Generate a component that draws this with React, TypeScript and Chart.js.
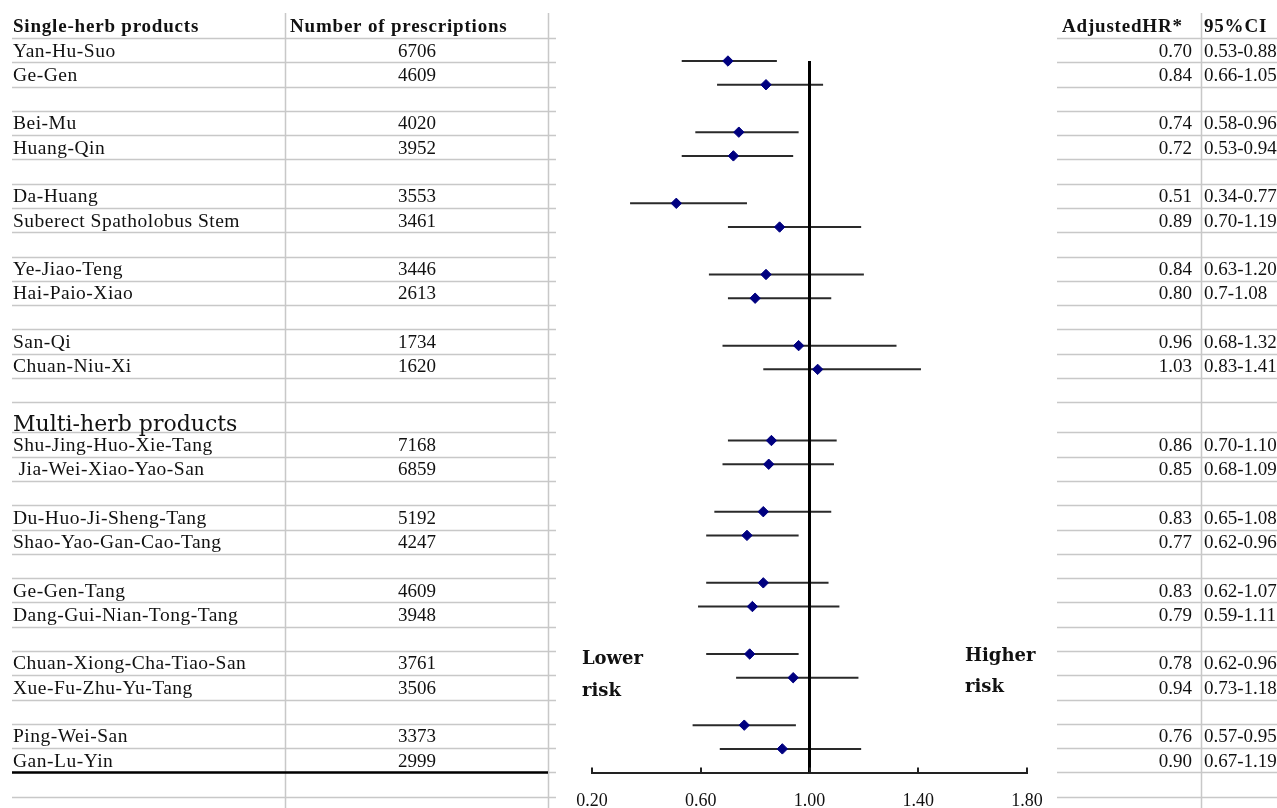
import { useEffect, useRef } from "react";
import { Chart, registerables } from "chart.js";

Chart.register(...registerables);

// ---------- data ----------
const singleNames = [
  "Yan-Hu-Suo",
  "Ge-Gen",
  "Bei-Mu",
  "Huang-Qin",
  "Da-Huang",
  "Suberect Spatholobus Stem",
  "Ye-Jiao-Teng",
  "Hai-Paio-Xiao",
  "San-Qi",
  "Chuan-Niu-Xi",
];
const singleCounts = [6706, 4609, 4020, 3952, 3553, 3461, 3446, 2613, 1734, 1620];
const singleHR = [0.7, 0.84, 0.74, 0.72, 0.51, 0.89, 0.84, 0.8, 0.96, 1.03];
const singleLower = [0.53, 0.66, 0.58, 0.53, 0.34, 0.7, 0.63, 0.7, 0.68, 0.83];
const singleUpper = [0.88, 1.05, 0.96, 0.94, 0.77, 1.19, 1.2, 1.08, 1.32, 1.41];
const singleCILabels = [
  "0.53-0.88", "0.66-1.05", "0.58-0.96", "0.53-0.94", "0.34-0.77",
  "0.70-1.19", "0.63-1.20", "0.7-1.08", "0.68-1.32", "0.83-1.41",
];

const multiNames = [
  "Shu-Jing-Huo-Xie-Tang",
  " Jia-Wei-Xiao-Yao-San",
  "Du-Huo-Ji-Sheng-Tang",
  "Shao-Yao-Gan-Cao-Tang",
  "Ge-Gen-Tang",
  "Dang-Gui-Nian-Tong-Tang",
  "Chuan-Xiong-Cha-Tiao-San",
  "Xue-Fu-Zhu-Yu-Tang",
  "Ping-Wei-San",
  "Gan-Lu-Yin",
];
const multiCounts = [7168, 6859, 5192, 4247, 4609, 3948, 3761, 3506, 3373, 2999];
const multiHR = [0.86, 0.85, 0.83, 0.77, 0.83, 0.79, 0.78, 0.94, 0.76, 0.9];
const multiLower = [0.7, 0.68, 0.65, 0.62, 0.62, 0.59, 0.62, 0.73, 0.57, 0.67];
const multiUpper = [1.1, 1.09, 1.08, 0.96, 1.07, 1.11, 0.96, 1.18, 0.95, 1.19];
const multiCILabels = [
  "0.70-1.10", "0.68-1.09", "0.65-1.08", "0.62-0.96", "0.62-1.07",
  "0.59-1.11", "0.62-0.96", "0.73-1.18", "0.57-0.95", "0.67-1.19",
];

const headerLabels = ["Single-herb products", "Number of prescriptions", "AdjustedHR*", "95%CI"];
const sectionTitle = "Multi-herb products";
const xTickValues = [0.2, 0.6, 1.0, 1.4, 1.8];
const referenceHR = 1;
const lowerRiskLines = ["Lower", "risk"];
const higherRiskLines = ["Higher", "risk"];

// ---------- row structure (index == y value on the plot) ----------
type Row = {
  kind: "item" | "blank" | "section";
  name?: string;
  count?: number;
  hr?: number;
  lo?: number;
  hi?: number;
  ci?: string;
};

function buildRows(): Row[] {
  const rows: Row[] = [];
  const pushGroup = (
    names: string[], counts: number[], hr: number[], lo: number[], hi: number[], ci: string[]
  ) => {
    names.forEach((n, i) => {
      rows.push({ kind: "item", name: n, count: counts[i], hr: hr[i], lo: lo[i], hi: hi[i], ci: ci[i] });
      if (i % 2 === 1 && i < names.length - 1) rows.push({ kind: "blank" });
    });
  };
  pushGroup(singleNames, singleCounts, singleHR, singleLower, singleUpper, singleCILabels);
  rows.push({ kind: "blank" });
  rows.push({ kind: "section", name: sectionTitle });
  pushGroup(multiNames, multiCounts, multiHR, multiLower, multiUpper, multiCILabels);
  return rows;
}

const ROWS = buildRows();

// ---------- table layout ----------
const W = 1277;
const H = 808;
const TABLE_TOP = 38;
const ROW_H = 24.29;
const SECTION_H = 30;
const SECTION_INDEX = ROWS.findIndex((r) => r.kind === "section");
const rowTop = (r: number) =>
  TABLE_TOP + r * ROW_H + (r > SECTION_INDEX ? SECTION_H - ROW_H : 0);

const COL = {
  leftStart: 12,
  leftEnd: 556,
  div1: 285,
  div2: 548,
  countCenter: 417,
  rightStart: 1057,
  hrRight: 1192,
  div3: 1201,
  ciLeft: 1204,
  gridTop: 13,
};

const NAME_FONT = "19.5px 'Liberation Serif', 'Times New Roman', serif";
const NUM_FONT = "19px 'Liberation Serif', 'Times New Roman', serif";
const HEADER_FONT = "bold 19px 'Liberation Serif', 'Times New Roman', serif";
const SECTION_FONT = "22px 'DejaVu Serif', serif";
const RISK_FONT = "bold 18px 'DejaVu Serif', serif";
const GRID_COLOR = "#c8c8c8";
const TEXT_COLOR = "#111";

const tablePlugin = {
  id: "forestTable",
  beforeDraw(chart: any) {
    const ctx: CanvasRenderingContext2D = chart.ctx;
    ctx.save();
    ctx.fillStyle = "#fff";
    ctx.fillRect(0, 0, chart.width, chart.height);

    // horizontal grid lines
    ctx.strokeStyle = GRID_COLOR;
    ctx.lineWidth = 1.5;
    for (let r = 0; r <= ROWS.length + 1; r++) {
      const y = Math.round(rowTop(r)) + 0.5;
      ctx.beginPath();
      ctx.moveTo(COL.leftStart, y);
      ctx.lineTo(COL.leftEnd, y);
      ctx.moveTo(COL.rightStart, y);
      ctx.lineTo(W, y);
      ctx.stroke();
    }
    // vertical dividers
    [COL.div1, COL.div2, COL.div3].forEach((x) => {
      ctx.beginPath();
      ctx.moveTo(x + 0.5, COL.gridTop);
      ctx.lineTo(x + 0.5, H);
      ctx.stroke();
    });
    // thick rule under the last row of the left table
    const yEnd = rowTop(ROWS.length);
    ctx.strokeStyle = "#000";
    ctx.lineWidth = 2.5;
    ctx.beginPath();
    ctx.moveTo(COL.leftStart, yEnd);
    ctx.lineTo(COL.div2, yEnd);
    ctx.stroke();

    // headers
    ctx.fillStyle = TEXT_COLOR;
    ctx.font = HEADER_FONT;
    ctx.textBaseline = "alphabetic";
    (ctx as any).letterSpacing = "0.8px";
    const hy = 32;
    ctx.textAlign = "left";
    ctx.fillText(headerLabels[0], 13, hy);
    ctx.fillText(headerLabels[1], 290, hy);
    ctx.fillText(headerLabels[2], 1062, hy);
    ctx.fillText(headerLabels[3], COL.ciLeft, hy);
    (ctx as any).letterSpacing = "0px";

    // rows
    ROWS.forEach((row, r) => {
      const top = rowTop(r);
      if (row.kind === "section") {
        ctx.font = SECTION_FONT;
        ctx.textAlign = "left";
        ctx.fillText(row.name as string, 13, top + SECTION_H - 1);
        return;
      }
      if (row.kind !== "item") return;
      const base = top + 18.5;
      ctx.font = NAME_FONT;
      ctx.textAlign = "left";
      (ctx as any).letterSpacing = "0.5px";
      ctx.fillText(row.name as string, 13, base);
      (ctx as any).letterSpacing = "0px";
      ctx.font = NUM_FONT;
      ctx.textAlign = "center";
      ctx.fillText(String(row.count), COL.countCenter, base);
      ctx.textAlign = "right";
      ctx.fillText((row.hr as number).toFixed(2), COL.hrRight, base);
      ctx.textAlign = "left";
      ctx.fillText(row.ci as string, COL.ciLeft, base);
    });
    ctx.restore();
  },
  afterDraw(chart: any) {
    const ctx: CanvasRenderingContext2D = chart.ctx;
    const xs = chart.scales.x;
    const ys = chart.scales.y;
    const bottom = chart.chartArea.bottom;
    ctx.save();
    // upward tick marks on the x axis
    ctx.strokeStyle = "#222";
    ctx.lineWidth = 2;
    xTickValues.forEach((v) => {
      const x = Math.round(xs.getPixelForValue(v));
      ctx.beginPath();
      ctx.moveTo(x, bottom);
      ctx.lineTo(x, bottom - 5);
      ctx.stroke();
    });
    // risk annotations
    ctx.fillStyle = TEXT_COLOR;
    ctx.font = RISK_FONT;
    ctx.textAlign = "left";
    ctx.textBaseline = "middle";
    lowerRiskLines.forEach((t, i) => {
      ctx.fillText(t, xs.getPixelForValue(0.163), ys.getPixelForValue(25.22 + i * 1.36));
    });
    higherRiskLines.forEach((t, i) => {
      ctx.fillText(t, xs.getPixelForValue(1.572), ys.getPixelForValue(25.08 + i * 1.34));
    });
    ctx.restore();
  },
};

export default function App() {
  const canvasRef = useRef<HTMLCanvasElement | null>(null);

  useEffect(() => {
    document.body.style.margin = "0";
    const canvas = canvasRef.current;
    if (!canvas) return;

    const itemRows = ROWS.map((r, i) => ({ r, i })).filter((o) => o.r.kind === "item");

    const ciDatasets = itemRows.map(({ r, i }) => ({
      label: `ci-${i}`,
      data: [
        { x: r.lo as number, y: i },
        { x: r.hi as number, y: i },
      ],
      showLine: true,
      borderColor: "#2a2a2a",
      borderWidth: 2,
      pointRadius: 0,
      order: 2,
    }));

    const pointDataset = {
      label: "HR",
      data: itemRows.map(({ r, i }) => ({ x: r.hr as number, y: i })),
      showLine: false,
      pointStyle: "rectRot",
      pointRadius: 5.2,
      pointBackgroundColor: "#000080",
      pointBorderColor: "#000080",
      pointBorderWidth: 1,
      order: 0,
    };

    const refDataset = {
      label: "ref",
      data: [
        { x: referenceHR, y: 0 },
        { x: referenceHR, y: ROWS.length },
      ],
      showLine: true,
      borderColor: "#000",
      borderWidth: 3,
      pointRadius: 0,
      order: 1,
    };

    const chart = new Chart(canvas, {
      type: "scatter",
      data: { datasets: [pointDataset, refDataset, ...ciDatasets] as any },
      options: {
        animation: false,
        responsive: false,
        devicePixelRatio: 1,
        layout: { padding: { left: 592, right: W - 1027, top: 37.28, bottom: 0 } },
        plugins: {
          legend: { display: false },
          tooltip: { enabled: false },
        },
        scales: {
          x: {
            type: "linear",
            min: 0.2,
            max: 1.8,
            afterBuildTicks: (s: any) => {
              s.ticks = xTickValues.map((v) => ({ value: v }));
            },
            afterFit: (s: any) => {
              s.height = 35.4;
            },
            ticks: {
              callback: (v: any) => Number(v).toFixed(2),
              font: { family: "'Liberation Serif', 'Times New Roman', serif", size: 18 },
              color: TEXT_COLOR,
              padding: 18,
              maxRotation: 0,
              autoSkip: false,
            },
            grid: { display: false, drawTicks: false },
            border: { display: true, color: "#222", width: 2 },
          },
          y: {
            type: "linear",
            display: false,
            reverse: true,
            min: -1,
            max: ROWS.length,
          },
        },
      } as any,
      plugins: [tablePlugin],
    });

    return () => chart.destroy();
  }, []);

  return (
    <canvas
      ref={canvasRef}
      width={W}
      height={H}
      style={{ display: "block", width: W, height: H }}
    />
  );
}
